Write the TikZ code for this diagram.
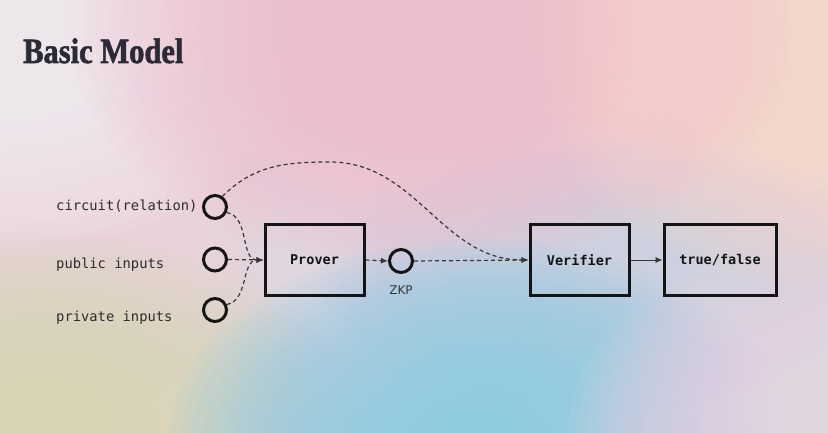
\documentclass[tikz,border=0pt]{standalone}
\usepackage{fontspec}
\setmainfont{DejaVu Sans}
\setmonofont{DejaVu Sans Mono}
\newfontface\titlefont[FakeStretch=0.86,FakeBold=1.6]{Liberation Serif Bold}
\usetikzlibrary{arrows.meta}
\definecolor{inkc}{HTML}{141414}
\definecolor{titlec}{HTML}{2B2B38}
\definecolor{basec}{HTML}{E0D6DF}
\definecolor{bgA}{HTML}{F8F2F6}
\definecolor{bgB}{HTML}{F6BDCE}
\definecolor{bgC}{HTML}{FDD6CA}
\definecolor{bgD}{HTML}{D9D4B6}
\definecolor{bgE}{HTML}{8CCBE9}
\definecolor{bgF}{HTML}{EAD7E0}
\definecolor{bgG}{HTML}{F4D3DA}
\definecolor{bgH}{HTML}{CDD1E4}
\newcommand\myblob[5]{%
  \foreach \k in {1,...,28} {\fill[#1,opacity=0.085] (#2,#3) ellipse ({#4*\k/28} and {#5*\k/28});}}
\tikzset{
  inpt/.style={circle,draw=inkc,line width=3pt,minimum size=23pt,inner sep=0pt},
  stepbox/.style={rectangle,draw=inkc,line width=3pt,minimum width=99pt,minimum height=71pt,inner sep=0pt,font=\ttfamily\bfseries\fontsize{13.5}{15}\selectfont,text=inkc},
  lbl/.style={anchor=base west,inner sep=0pt,font=\ttfamily\fontsize{13.8}{15}\selectfont,text=inkc!90},
  dline/.style={draw=inkc!85,line width=1.2pt,dash pattern=on 4pt off 3pt,-{Latex[length=7pt,width=6pt]}},
}
\begin{document}
\begin{tikzpicture}[x=1pt,y=-1pt]
\useasboundingbox (0,0) rectangle (828,433);
% background
\fill[basec] (0,0) rectangle (828,433);
\begin{scope}
\clip (0,0) rectangle (828,433);
\myblob{bgH}{600}{275}{280}{140}
\myblob{bgG}{0}{240}{280}{200}
\myblob{bgA}{0}{0}{330}{250}
\myblob{bgB}{430}{30}{360}{240}
\myblob{bgC}{828}{30}{300}{260}
\myblob{bgD}{40}{433}{330}{200}
\myblob{bgE}{480}{440}{310}{200}
\myblob{bgF}{828}{433}{260}{190}
\end{scope}
% title
\node[anchor=base west,inner sep=0pt,text=titlec,font=\titlefont\fontsize{35.5}{40}\selectfont] (title) at (23,63) {Basic Model};
% inputs
\node[inpt] (c1) at (215,207) {};
\node[inpt] (c2) at (215,259.5) {};
\node[inpt] (c3) at (215,310) {};
\node[lbl] (l1) at (56,211) {circuit(relation)};
\node[lbl] (l2) at (56,269) {public inputs};
\node[lbl] (l3) at (56,321) {private inputs};
% boxes
\node[stepbox] (prover) at (314.5,260) {Prover};
\node[inpt] (zkp) at (401,261) {};
\node[anchor=center,inner sep=0pt,text=inkc!85,font=\fontsize{12}{14}\selectfont] (zkpl) at (401,290) {ZKP};
\node[stepbox] (verifier) at (579.5,260) {Verifier};
\node[stepbox,minimum width=112pt] (tf) at (720,260) {true/false};
\coordinate (peak) at (330,162);
% connectors
\draw[dline] (c1.-25) to[out=-10,in=180] (prover.west);
\draw[dline] (c2.east) -- (prover.west);
\draw[dline] (c3.25) to[out=10,in=180] (prover.west);
\draw[dline] (prover.east) -- (zkp.west);
\draw[dline] (zkp.east) -- (verifier.west);
\draw[dline] (c1.55) to[out=45,in=180] (peak) to[out=0,in=180] (verifier.west);
\draw[draw=inkc!85,line width=0.9pt,-{Latex[length=7pt,width=6pt]}] (verifier.east) -- (tf.west);
\end{tikzpicture}
\end{document}
